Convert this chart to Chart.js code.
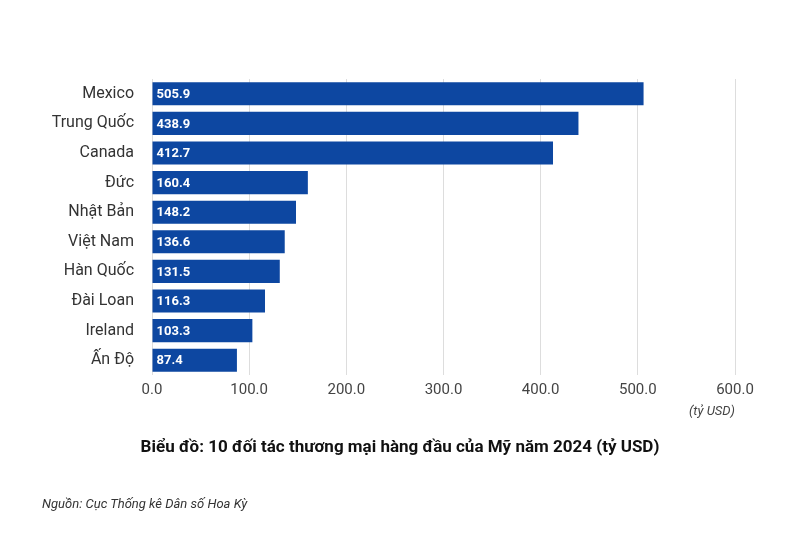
<!DOCTYPE html>
<html><head><meta charset="utf-8">
<script src="https://cdn.jsdelivr.net/npm/chart.js@4"></script>
<style>
body{margin:0;background:#fff;font-family:Roboto,sans-serif}
#wrap{position:relative;width:800px;height:533px}
canvas{position:absolute;left:0;top:0}
.t{position:absolute;white-space:nowrap;color:#111}
</style></head><body>
<div id="wrap">
<canvas id="c" width="800" height="533"></canvas>
<div class="t" style="right:65px;top:403px;font-style:italic;font-size:13px;color:#444">(tỷ USD)</div>
<div class="t" style="left:0;width:800px;text-align:center;top:436px;font-weight:bold;font-size:17px">Biểu đồ: 10 đối tác thương mại hàng đầu của Mỹ năm 2024 (tỷ USD)</div>
<div class="t" style="left:42px;top:496px;font-style:italic;font-size:13px;color:#333">Nguồn: Cục Thống kê Dân số Hoa Kỳ</div>
</div>
<script>
const categories=["Mexico","Trung Quốc","Canada","Đức","Nhật Bản","Việt Nam","Hàn Quốc","Đài Loan","Ireland","Ấn Độ"];
const values=[505.9,438.9,412.7,160.4,148.2,136.6,131.5,116.3,103.3,87.4];
const labelPlugin={id:'lbl',afterDatasetsDraw(ch){const ctx=ch.ctx;ctx.save();ctx.fillStyle='#fff';ctx.font='bold 13px Roboto';ctx.textBaseline='middle';
ch.getDatasetMeta(0).data.forEach((b,i)=>{ctx.fillText(values[i].toFixed(1),b.base+4,b.y+1);});ctx.restore();}};
new Chart(document.getElementById('c'),{type:'bar',
data:{labels:categories,datasets:[{data:values,backgroundColor:'#0D47A1',barPercentage:0.78,categoryPercentage:1}]},
options:{indexAxis:'y',responsive:false,animation:false,
layout:{padding:{top:79,right:65,bottom:128,left:0}},
plugins:{legend:{display:false},tooltip:{enabled:false}},
scales:{
x:{min:0,max:600,ticks:{stepSize:100,callback:v=>v.toFixed(1),color:'#444',font:{family:'Roboto',size:15},padding:6},grid:{color:'#ddd',drawTicks:false},border:{display:false}},
y:{ticks:{color:'#333',font:{family:'Roboto',size:16},padding:10},grid:{display:false},border:{display:false},afterFit(s){s.width=152;}}
}},plugins:[labelPlugin]});
</script></body></html>
